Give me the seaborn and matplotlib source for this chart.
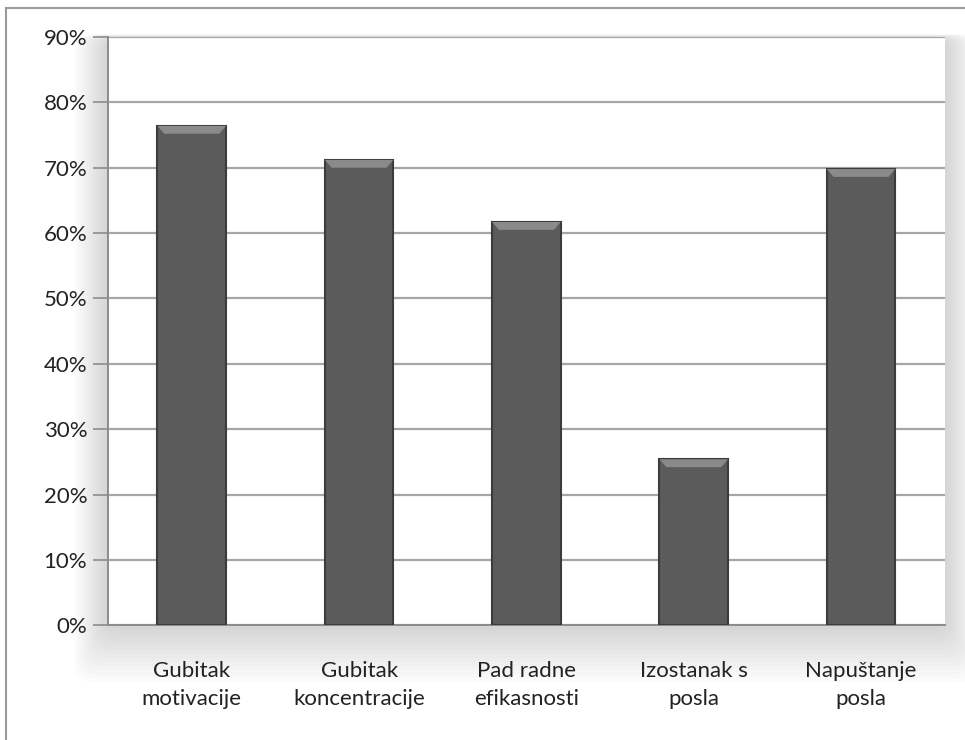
import matplotlib
matplotlib.use("Agg")
import matplotlib.pyplot as plt
import matplotlib.patches as mpatches
from matplotlib.ticker import FuncFormatter, FixedLocator
import seaborn as sns
import pandas as pd

# data
categories = ["Gubitak\nmotivacije", "Gubitak\nkoncentracije", "Pad radne\nefikasnosti",
              "Izostanak s\nposla", "Napuštanje\nposla"]
shares = [0.764, 0.712, 0.617, 0.254, 0.698]
y_ticks = [0.0, 0.1, 0.2, 0.3, 0.4, 0.5, 0.6, 0.7, 0.8, 0.9]

df = pd.DataFrame({"kategorija": categories, "udio": shares})

sns.set_style("white")
plt.rcParams["font.family"] = ["Lato", "DejaVu Sans"]

fig = plt.figure(figsize=(9.65, 7.4), dpi=100)
ax_box = [0.112, 0.155, 0.867, 0.795]
ax = fig.add_axes(ax_box)

# soft grey shadow around the plot area, like the Excel chart
n = 14
for i in range(n):
    pad = 0.035 * (1 - i / n)
    fig.patches.append(mpatches.FancyBboxPatch(
        (ax_box[0] - pad, ax_box[1] - pad * 2.2), ax_box[2] + 2 * pad, ax_box[3] + pad * 2.3,
        boxstyle="round,pad=0,rounding_size=0.02", transform=fig.transFigure,
        facecolor="#808080", edgecolor="none", alpha=0.022, zorder=0))
# outer frame
fig.patches.append(mpatches.Rectangle((0.006, -0.01), 1.2, 0.999, transform=fig.transFigure,
                                      facecolor="none", edgecolor="#9a9a9a", lw=1.5, zorder=1))

sns.barplot(data=df, x="kategorija", y="udio", ax=ax, color="#5b5b5b",
            edgecolor="#3c3c3c", linewidth=1.5, width=0.41, saturation=1, zorder=3)

# light bevel on the top of each bar
for p in list(ax.patches):
    x0, w, h = p.get_x(), p.get_width(), p.get_height()
    ax.add_patch(mpatches.Polygon(
        [(x0, h), (x0 + w, h), (x0 + w * 0.9, h - 0.012), (x0 + w * 0.1, h - 0.012)],
        closed=True, facecolor="#8a8a8a", edgecolor="none", zorder=4))

ax.set_ylim(0, 0.9)
ax.set_xlim(-0.5, len(categories) - 0.5)
ax.set_yticks(y_ticks)
ax.yaxis.set_major_formatter(FuncFormatter(lambda v, _: f"{v * 100:.0f}%"))
ax.grid(axis="y", color="#a6a6a6", lw=1.6, zorder=0)
ax.set_axisbelow(True)

ax.set_xlabel("")
ax.set_ylabel("")
ax.tick_params(axis="x", which="major", length=0, pad=26, labelsize=16, labelcolor="#222222")
for lbl in ax.get_xticklabels():
    lbl.set_linespacing(1.45)
ax.xaxis.set_minor_locator(FixedLocator([i - 0.5 for i in range(len(categories) + 1)]))
ax.tick_params(axis="x", which="minor", length=8, width=1.2, color="#8c8c8c", direction="out")
ax.tick_params(axis="y", length=11, width=1.2, color="#8c8c8c", direction="out",
               labelsize=16, labelcolor="#222222", left=True, pad=4)

for side in ["top", "right"]:
    ax.spines[side].set_visible(False)
for side in ["left", "bottom"]:
    ax.spines[side].set_color("#8c8c8c")
    ax.spines[side].set_linewidth(1.4)
ax.set_facecolor("white")
ax.set_zorder(2)

fig.savefig("out.png", dpi=100, facecolor="white")
